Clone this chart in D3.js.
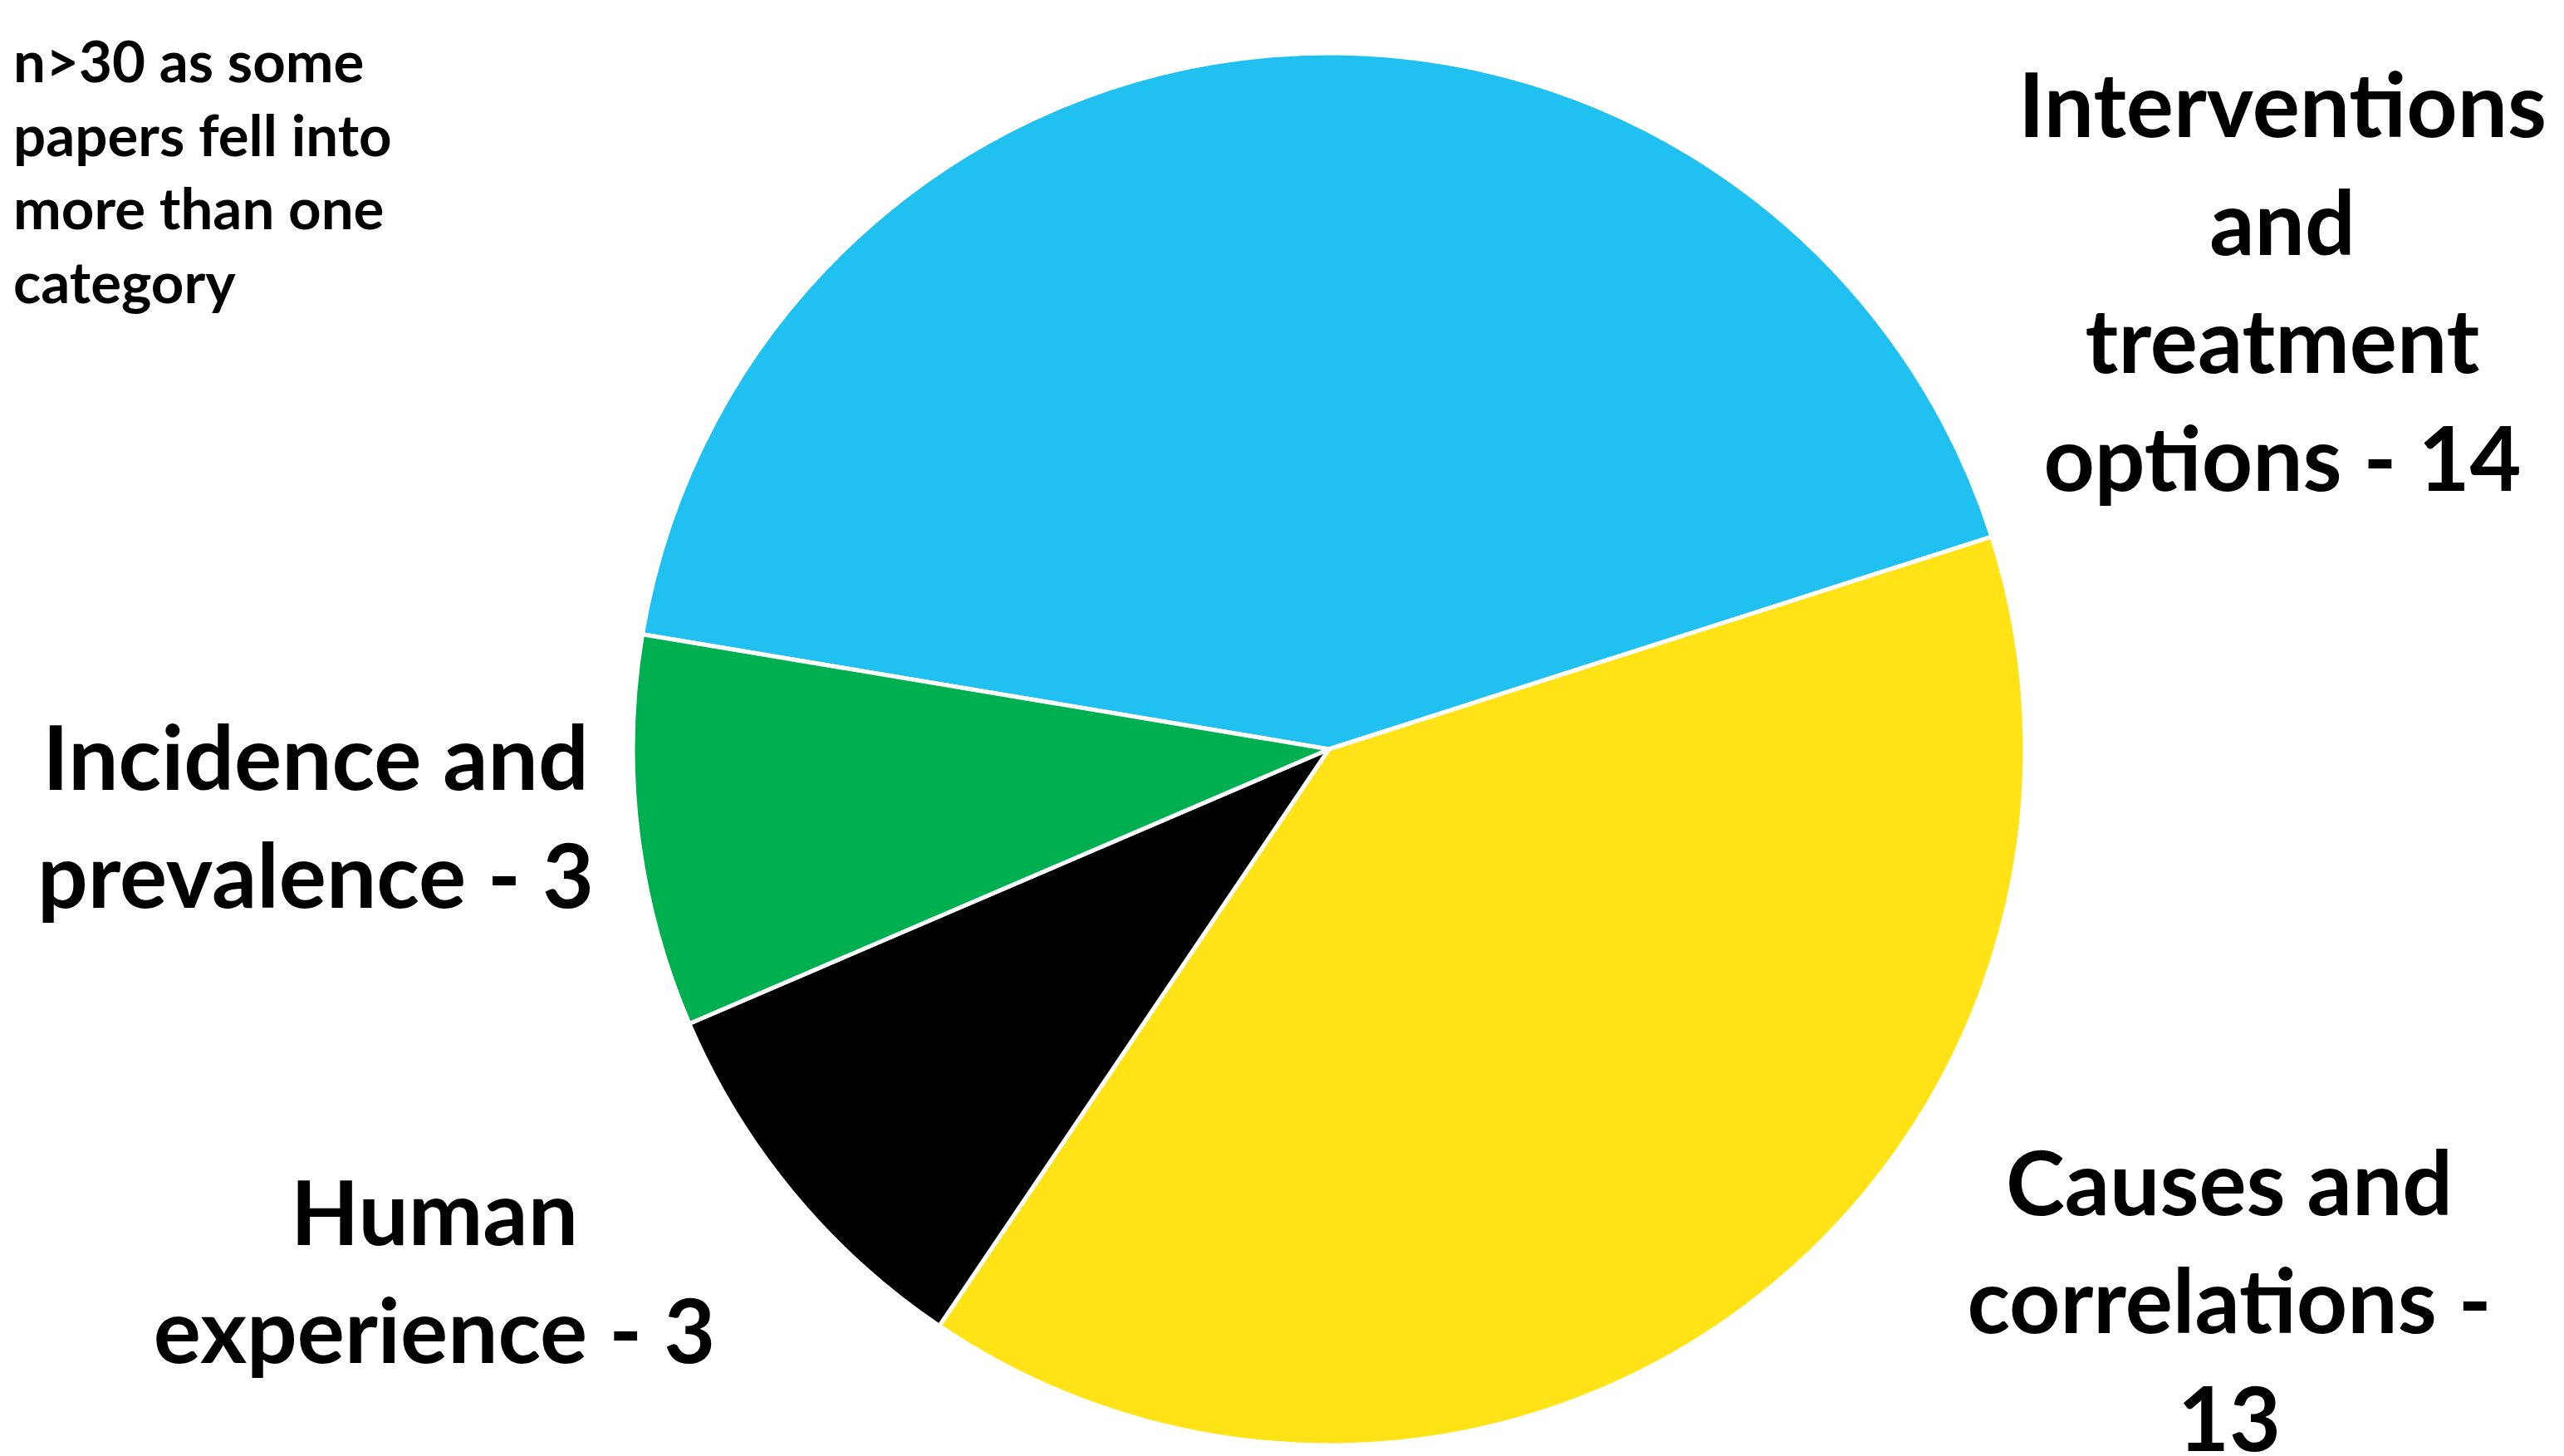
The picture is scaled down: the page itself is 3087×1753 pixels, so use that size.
<!DOCTYPE html>
<html>
<head>
<meta charset="utf-8">
<script src="https://cdn.jsdelivr.net/npm/d3@7"></script>
<style>
  html, body { margin: 0; padding: 0; background: #fff; }
  svg { display: block; }
  text { font-family: Lato, "Open Sans", sans-serif; font-weight: 700; fill: #000; }
</style>
</head>
<body>
<div id="chart"></div>
<script>
// data
const categories = ["Interventions and treatment options", "Causes and correlations", "Human experience", "Incidence and prevalence"];
const values = [14, 13, 3, 3];
const colors = ["#20C1F0", "#FFE317", "#000000", "#00AF50"];
// how many words go on each line of a label
const wordsPerLine = [[1, 1, 1, 3], [2, 2, 1], [1, 3], [2, 3]];
const noteLines = ["n>30 as some", "papers fell into", "more than one", "category"];

const width = 3087;
const height = 1753;
const cx = 1600, cy = 902, radius = 838;

// label placement: centre x and first baseline
const labelPos = [
	{ x: 2748, y: 165 },
	{ x: 2684, y: 1463 },
	{ x: 523, y: 1499 },
	{ x: 380, y: 951 }
];
const labelSize = 107;
const labelLead = 142;

const svg = d3.select("#chart").append("svg")
	.attr("width", width)
	.attr("height", height);

const pie = d3.pie()
	.sort(null)
	.startAngle(-80.5 * Math.PI / 180)
	.endAngle(-80.5 * Math.PI / 180 + 2 * Math.PI);

const arc = d3.arc().innerRadius(0).outerRadius(radius);

const slices = pie(values);

svg.append("g")
	.attr("transform", `translate(${cx},${cy})`)
	.selectAll("path")
	.data(slices)
	.join("path")
	.attr("d", arc)
	.attr("fill", (d, i) => colors[i])
	.attr("stroke", "#fff")
	.attr("stroke-width", 5)
	.attr("stroke-linejoin", "round");

function splitLabel(i) {
	const words = (categories[i] + " - " + values[i]).split(" ");
	const lines = [];
	let k = 0;
	wordsPerLine[i].forEach(n => {
		lines.push(words.slice(k, k + n).join(" "));
		k += n;
	});
	return lines;
}

categories.forEach((c, i) => {
	const t = svg.append("text")
		.attr("text-anchor", "middle")
		.style("font-size", labelSize + "px");
	splitLabel(i).forEach((line, j) => {
		t.append("tspan")
			.attr("x", labelPos[i].x)
			.attr("y", labelPos[i].y + j * labelLead)
			.text(line);
	});
});

const note = svg.append("text").style("font-size", "69px");
noteLines.forEach((line, j) => {
	note.append("tspan")
		.attr("x", 16)
		.attr("y", 99 + j * 88.5)
		.text(line);
});
</script>
</body>
</html>
